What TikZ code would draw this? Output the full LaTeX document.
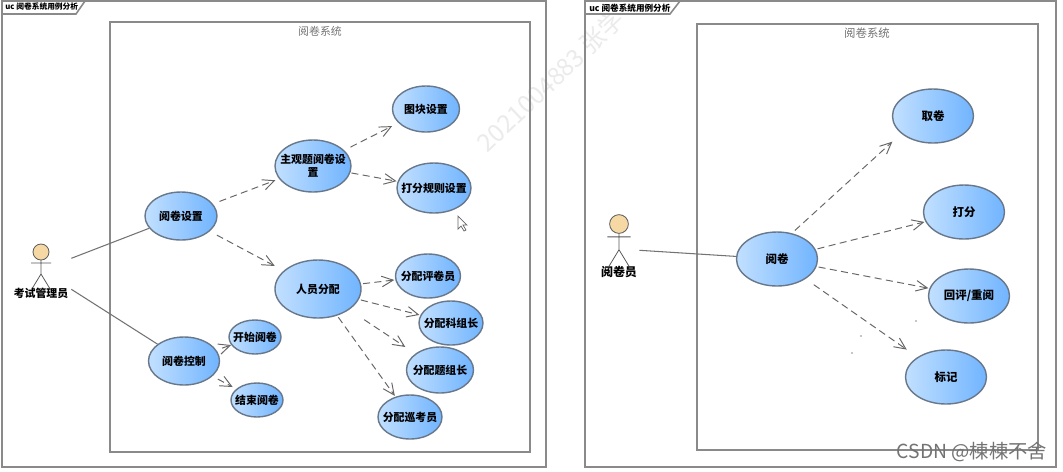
\documentclass[tikz,border=0pt]{standalone}
\usepackage{fontspec}
\setmainfont{Noto Sans CJK SC}
\usepackage{tikz}
\usetikzlibrary{shapes,arrows.meta}
\definecolor{ucleft}{HTML}{C2E0FF}
\definecolor{ucright}{HTML}{70B4FF}
\definecolor{ucedge}{HTML}{68788A}
\definecolor{ucframe}{HTML}{8A8A8A}
\definecolor{ucskin}{HTML}{F6D8A4}
\tikzset{
  usecase/.style={ellipse, draw=ucedge, line width=0.8pt, left color=ucleft, right color=ucright, inner sep=0pt},
  caselabel/.style={inner sep=0pt, align=center, text=black, font=\fontsize{6.2}{7.6}\selectfont\bfseries},
  actorbox/.style={rectangle, inner sep=0pt, minimum height=60*0.02cm},
  actorline/.style={draw=black!65, line width=0.45pt},
  assoc/.style={draw=black!55, line width=0.6pt},
  dep/.style={draw=black!60, line width=0.55pt, dash pattern=on 4pt off 2.5pt, -{Straight Barb[length=6.5pt,width=6pt]}},
  frame/.style={draw=ucframe, line width=0.9pt},
  syslabel/.style={text=black!55, font=\fontsize{6.2}{7.4}\selectfont},
  tablabel/.style={anchor=west, inner sep=0pt, font=\fontsize{4.4}{5}\selectfont\bfseries},
}
\newcommand{\ucusecase}[5] {\node at (#1) (#2) [usecase, minimum width=#3*0.02cm, minimum height=#4*0.02cm, label={[caselabel]center:#5}] {};}
\newcommand{\ucactor}[6] {
  \node at (#3) (#2) [actorbox, minimum width=#4*0.02cm] {};
  \begin{scope}[shift={(#1)}, scale=#5]
    \draw [actorline, fill=ucskin] (0,0) circle [radius=8];
    \draw [actorline] (0,8) -- (0,22) -- (-8.5,36) (0,22) -- (8.5,36) (-10,11) -- (10,11);
    \node at (0,41) (#2label) [inner sep=0pt, font=\fontsize{6.2}{7.4}\selectfont\bfseries] {#6};
  \end{scope}
}
\newcommand{\ucassoc}[2] {\draw [assoc] (#1) -- (#2);}
\newcommand{\ucdepend}[4] {\draw [dep, shorten <=#3*0.02cm, shorten >=#4*0.02cm] (#1) -- (#2);}
\begin{document}
\begin{tikzpicture}[x=0.02cm, y=-0.02cm]
\useasboundingbox (0,0) rectangle (1063,471);
\fill [white] (0,0) rectangle (1063,471);

% watermark behind everything
\node at (481,147) (mark) [anchor=west, rotate=43.5, text=black!8, inner sep=0pt, font=\fontsize{14}{16}\selectfont] {2021004883 张学};

% left frame
\draw [frame] (2,1) rectangle (546,467);
\draw [frame] (110,22) rectangle (530,452);
\draw [frame, fill=white] (2,14) -- (76,14) -- (85,1) -- (2,1) -- cycle;
\node at (5,7) (lefttab) [tablabel] {uc 阅卷系统用例分析};
\node at (320,31) (leftsys) [syslabel] {阅卷系统};

% left use cases
\ucusecase {181,216} {setting} {72} {48} {阅卷设置};
\ucusecase {313,166} {subject} {76} {52} {主观题阅卷设\\置};
\ucusecase {426,109} {block} {67} {46} {图块设置};
\ucusecase {434,188} {rule} {74} {50} {打分规则设置};
\ucusecase {318,289} {staff} {86} {58} {人员分配};
\ucusecase {428,276} {grader} {65} {44} {分配评卷员};
\ucusecase {451,323} {courselead} {64} {44} {分配科组长};
\ucusecase {440,370} {itemlead} {67} {46} {分配题组长};
\ucusecase {410,417} {proctor} {64} {44} {分配巡考员};
\ucusecase {184,361} {control} {71} {48} {阅卷控制};
\ucusecase {255,337} {begin} {52} {34} {开始阅卷};
\ucusecase {257,400} {finish} {52} {34} {结束阅卷};

\ucactor {41,252} {admin} {41,270} {60} {1} {考试管理员};
\ucassoc {admin} {setting};
\ucassoc {admin} {control};

\ucdepend {setting} {subject} {7} {4};
\ucdepend {setting} {staff} {8} {10};
\ucdepend {subject} {block} {7} {7};
\ucdepend {subject} {rule} {1} {1};
\ucdepend {staff} {grader} {2} {1};
\ucdepend {staff} {courselead} {2} {1};
\ucdepend {staff} {itemlead} {18} {12};
\ucdepend {staff} {proctor} {2} {1};
\ucdepend {control} {begin} {6} {0};
\ucdepend {control} {finish} {6} {4};

% cursor left in the screenshot
\draw [draw=black!60, fill=white, line width=0.4pt] (458,216) -- (458,229) -- (461,226) -- (464,231) -- (466,230) -- (463,225) -- (467,225) -- cycle;

% right frame
\draw [frame] (585,1) rectangle (1056,467);
\draw [frame] (697,24) rectangle (1038,450);
\draw [frame, fill=white] (585,14) -- (670,14) -- (680,1) -- (585,1) -- cycle;
\node at (589,8) (righttab) [tablabel, font=\fontsize{4.9}{5.5}\selectfont\bfseries] {uc 阅卷系统用例分析};
\node at (867,33) (rightsys) [syslabel, font=\fontsize{6.5}{7.5}\selectfont] {阅卷系统};

% right use cases
\tikzset{caselabel/.append style={font=\fontsize{6.5}{7.6}\selectfont\bfseries}}
\ucusecase {777,259} {marking} {81} {54} {阅卷};
\ucusecase {933,116} {fetch} {81} {54} {取卷};
\ucusecase {964,212} {score} {81} {54} {打分};
\ucusecase {969,296} {review} {81} {54} {回评/重阅};
\ucusecase {946,377} {flag} {81} {54} {标记};

\ucactor {619,224} {grader2} {619,249} {40} {1.17} {\fontsize{6.8}{8}\selectfont 阅卷员};
\ucassoc {grader2} {marking};

\ucdepend {marking.60} {fetch.209} {4} {12};
\ucdepend {marking} {score} {2} {1};
\ucdepend {marking} {review} {2} {1};
\ucdepend {marking} {flag} {10} {13};

% specks
\foreach \speck in {{916,321},{861,336},{852,353}}
  \fill [black!45] (\speck) circle [radius=0.8];

\node at (972,452) (csdn) [text=black!55, inner sep=0pt, font=\fontsize{11}{13}\selectfont] {CSDN @棟棟不舍};
\end{tikzpicture}
\end{document}
